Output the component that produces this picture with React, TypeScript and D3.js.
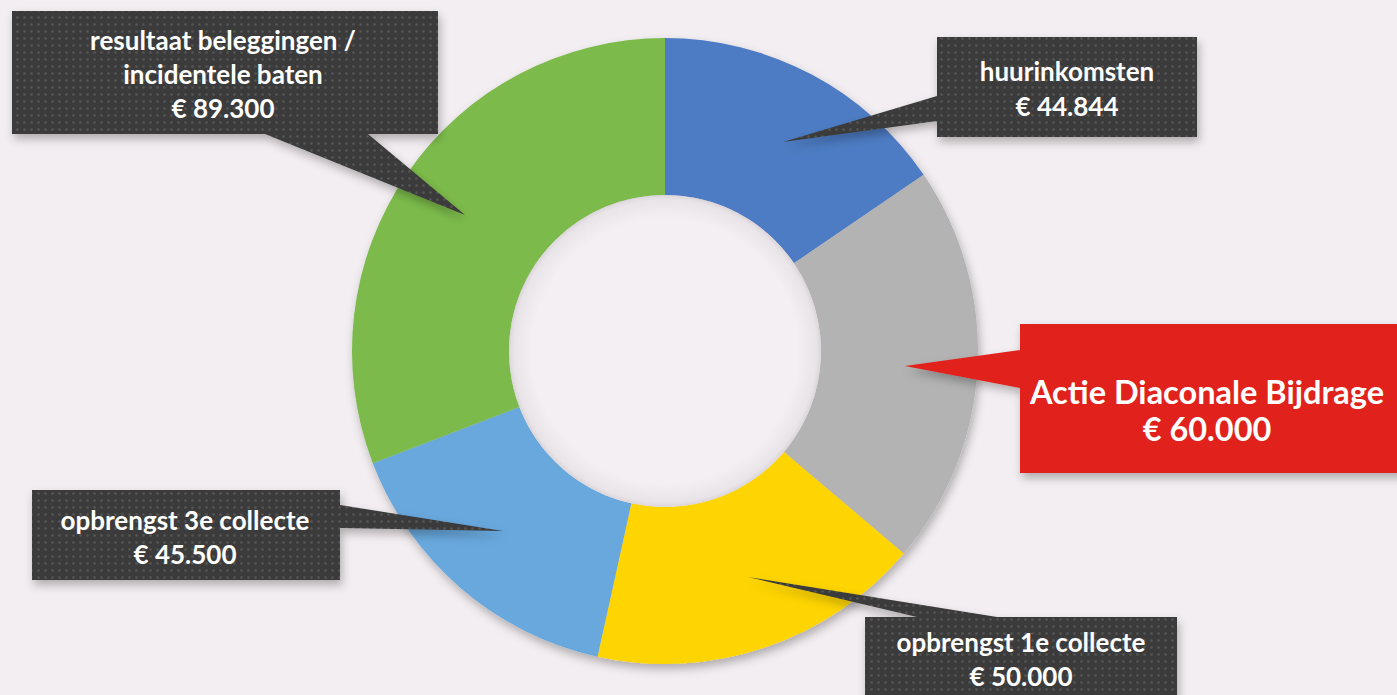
import { useMemo } from "react";
import * as d3 from "d3";

const WIDTH = 1397;
const HEIGHT = 695;
const CENTER = { x: 665, y: 351 };
const OUTER_R = 313;
const INNER_R = 156;

// slices, clockwise from 12 o'clock
const labels = [
  "huurinkomsten",
  "Actie Diaconale Bijdrage",
  "opbrengst 1e collecte",
  "opbrengst 3e collecte",
  "resultaat beleggingen / incidentele baten",
];
const values = [44844, 60000, 50000, 45500, 89300];
const colors = ["#4e7cc4", "#b3b3b3", "#fed500", "#68a8dd", "#7cbb4b"];

// label lines as shown in the callouts
const labelLines = [
  ["huurinkomsten"],
  ["Actie Diaconale Bijdrage"],
  ["opbrengst 1e collecte"],
  ["opbrengst 3e collecte"],
  ["resultaat beleggingen /", "incidentele baten"],
];

type Callout = {
  box: [number, number, number, number]; // x, y, w, h
  tail: [number, number][]; // base1, tip, base2
  fill: string;
  textured: boolean;
  fontSize: number;
  lineH: number;
  textY: number;
  dx: number;
};

// callout boxes (layout only)
const callouts: Callout[] = [
  { box: [937, 37, 260, 100], tail: [[937, 96], [783, 142], [937, 121]], fill: "#3b3b3b", textured: true, fontSize: 26, lineH: 35, textY: 71, dx: 0 },
  { box: [1020, 324, 390, 149], tail: [[1020, 350], [905, 366], [1020, 388]], fill: "#e1221c", textured: false, fontSize: 32.5, lineH: 37, textY: 391, dx: -8 },
  { box: [865, 617, 312, 90], tail: [[917, 617], [748, 577], [997, 617]], fill: "#3b3b3b", textured: true, fontSize: 26, lineH: 34, textY: 642, dx: 0 },
  { box: [32, 490, 308, 90], tail: [[340, 505], [503, 531], [340, 528]], fill: "#3b3b3b", textured: true, fontSize: 26, lineH: 34, textY: 520, dx: -1 },
  { box: [12, 11, 426, 123], tail: [[265, 134], [465, 215], [368, 134]], fill: "#3b3b3b", textured: true, fontSize: 26, lineH: 34, textY: 40, dx: -2 },
];

const fmt = (v: number) => "€ " + d3.format(",")(v).replace(/,/g, ".");

const calloutPath = (c: Callout) => {
  const [x, y, w, h] = c.box;
  const p = d3.path();
  p.rect(x, y, w, h);
  p.moveTo(c.tail[0][0], c.tail[0][1]);
  p.lineTo(c.tail[1][0], c.tail[1][1]);
  p.lineTo(c.tail[2][0], c.tail[2][1]);
  p.closePath();
  return p.toString();
};

export default function App() {
  const arcs = useMemo(
    () =>
      d3
        .pie<number>()
        .sort(null)
        .startAngle(0)
        .endAngle(2 * Math.PI)(values),
    []
  );
  const arcGen = d3.arc<d3.PieArcDatum<number>>().innerRadius(INNER_R).outerRadius(OUTER_R);

  return (
    <div style={{ position: "absolute", left: 0, top: 0 }}>
      <style>{`body{margin:0}`}</style>
      <svg width={WIDTH} height={HEIGHT} style={{ display: "block" }}>
        <defs>
          <filter id="shadow" x="-20%" y="-20%" width="140%" height="140%">
            <feDropShadow dx="2" dy="5" stdDeviation="5" floodColor="#000" floodOpacity="0.28" />
          </filter>
          <pattern id="dots" width="7" height="7" patternUnits="userSpaceOnUse">
            <rect width="7" height="7" fill="#3b3b3b" />
            <circle cx="3.5" cy="3.5" r="1.3" fill="#565656" />
          </pattern>
          <radialGradient id="hole" cx="50%" cy="50%" r="50%">
            <stop offset="0.85" stopColor="#f4eff2" />
            <stop offset="0.97" stopColor="#e9e4e7" />
            <stop offset="1" stopColor="#dcd6da" />
          </radialGradient>
        </defs>
        <rect width={WIDTH} height={HEIGHT} fill="#f3eef1" />

        <g transform={`translate(${CENTER.x},${CENTER.y})`} filter="url(#shadow)">
          {arcs.map((a, i) => (
            <path key={labels[i]} d={arcGen(a) || ""} fill={colors[i]} />
          ))}
        </g>
        <circle cx={CENTER.x} cy={CENTER.y} r={INNER_R} fill="url(#hole)" />

        {callouts.map((c, i) => {
          const [x, , w] = c.box;
          const lines = [...labelLines[i], fmt(values[i])];
          return (
            <g key={i}>
              <path
                d={calloutPath(c)}
                fill={c.textured ? "url(#dots)" : c.fill}
                filter="url(#shadow)"
              />
              {lines.map((t, j) => (
                <text
                  key={j}
                  x={x + w / 2 + c.dx}
                  y={c.textY + j * c.lineH}
                  textAnchor="middle"
                  dominantBaseline="central"
                  fill="#ffffff"
                  fontFamily="Lato, 'Open Sans', sans-serif"
                  fontWeight="bold"
                  fontSize={c.fontSize}
                >
                  {t}
                </text>
              ))}
            </g>
          );
        })}
      </svg>
    </div>
  );
}
